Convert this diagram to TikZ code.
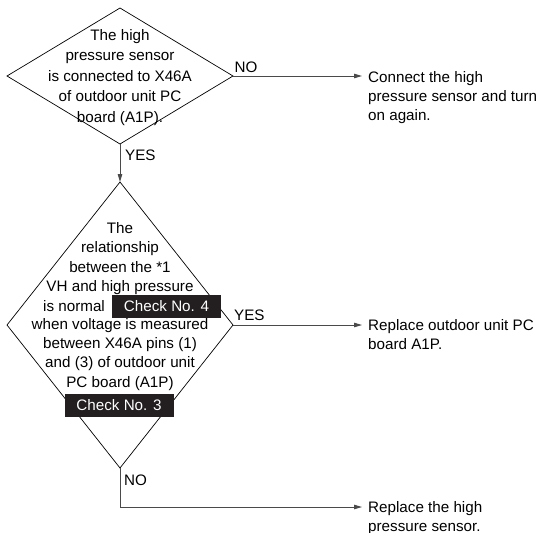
\documentclass[tikz,border=0pt]{standalone}
\usepackage{fontspec}
\setmainfont{Liberation Sans}
\usetikzlibrary{shapes.geometric,arrows.meta}
\definecolor{boxblack}{HTML}{231F20}
\definecolor{linegray}{HTML}{4A4A4A}
\begin{document}
\begin{tikzpicture}[x=1pt,y=-1pt,
  dec/.style={diamond,draw=black,line width=0.7pt,inner sep=0pt,outer sep=0pt},
  txt/.style={font=\fontsize{15.2}{20.5}\selectfont,inner sep=0pt,align=center},
  ltxt/.style={font=\fontsize{15.2}{19}\selectfont,inner sep=0pt,align=left},
  lbl/.style={font=\fontsize{15.2}{18}\selectfont,inner sep=0pt,anchor=base west},
  chk/.style={fill=boxblack,text=white,font=\fontsize{15.2}{18}\selectfont,inner sep=0pt,minimum width=109pt,minimum height=23pt},
  conn/.style={draw=linegray,line width=0.9pt},
  arr/.style={conn,-{Triangle[length=8pt,width=4.5pt]}}
]
\useasboundingbox (0,0) rectangle (547,533);

% Decision 1
\node[dec,minimum width=226pt,minimum height=136pt] (d1) at (120,76) {};
\node[txt,anchor=base] (t1) at (120,122) {The high\\pressure sensor\\is connected to X46A\\of outdoor unit PC\\board (A1P).};

% Decision 2
\node[dec,minimum width=226pt,minimum height=286pt] (d2) at (120,325) {};
\node[txt,font=\fontsize{15.2}{19.5}\selectfont,anchor=base] (t2a) at (120,291.5) {The\\relationship\\between the *1\\VH and high pressure};
\node[lbl] (t2b) at (43,311) {is normal};
\node[chk] (c4) at (166.5,306) {Check No. 4};
\node[txt,font=\fontsize{15.2}{19.2}\selectfont,anchor=base] (t2c) at (120,387) {when voltage is measured\\between X46A pins (1)\\and (3) of outdoor unit\\PC board (A1P)};
\node[chk] (c3) at (119,405.5) {Check No. 3};

% Results
\node[ltxt,anchor=base west] (r1) at (368,120.5) {Connect the high\\pressure sensor and turn\\on again.};
\node[ltxt,anchor=base west] (r2) at (368,349.5) {Replace outdoor unit PC\\board A1P.};
\node[ltxt,anchor=base west] (r3) at (368,531) {Replace the high\\pressure sensor.};

\coordinate (e1) at (362,76);
\coordinate (e2) at (362,325);
\coordinate (k3) at (120,507);
\coordinate (e3) at (362,507);

% Connectors
\draw[arr] (d1.east) -- (e1);
\draw[arr] (d1.south) -- (d2.north);
\draw[arr] (d2.east) -- (e2);
\draw[arr] (d2.south) -- (k3) -- (e3);

% Labels
\node[lbl] (n1) at (234.5,72) {NO};
\node[lbl] (y1) at (125,160) {YES};
\node[lbl] (y2) at (234,320) {YES};
\node[lbl] (n2) at (124,485) {NO};
\end{tikzpicture}
\end{document}
